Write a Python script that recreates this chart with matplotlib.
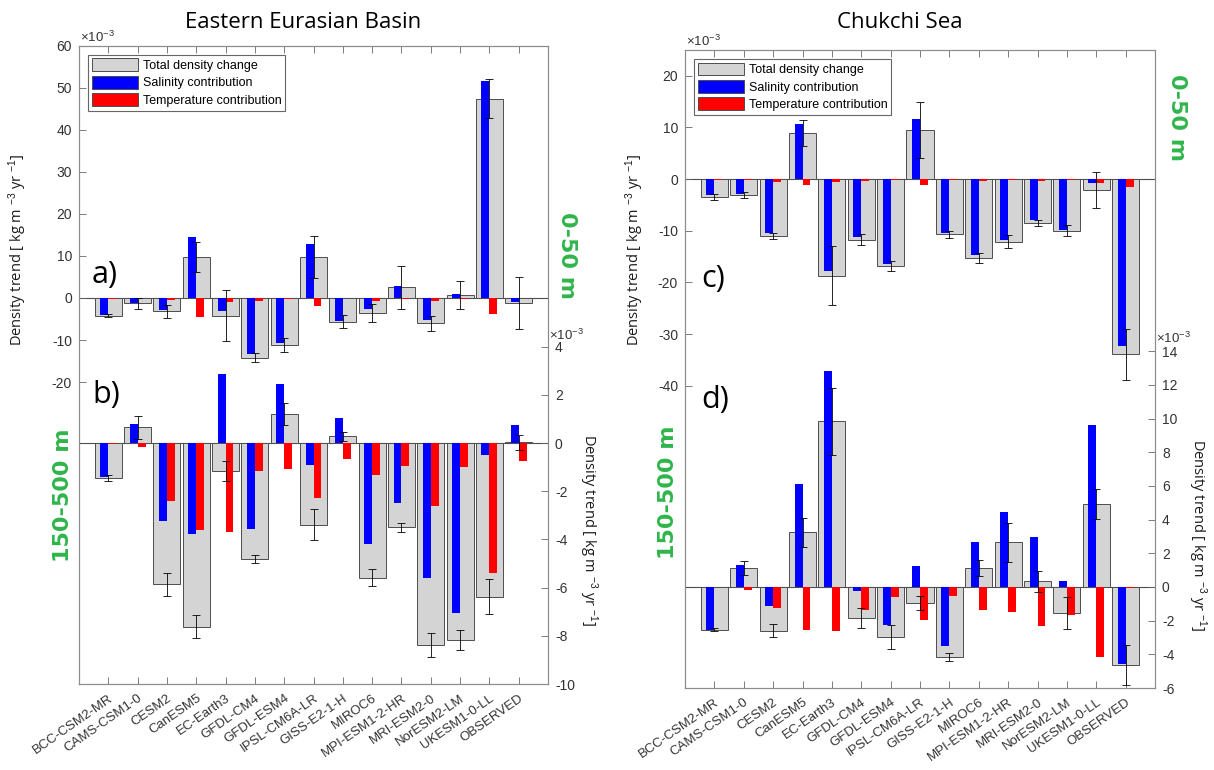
import numpy as np
import matplotlib
matplotlib.use("Agg")
import matplotlib.pyplot as plt
from matplotlib.patches import Patch

plt.rcParams['font.family'] = ['Liberation Sans', 'DejaVu Sans']
plt.rcParams['axes.unicode_minus'] = False
plt.rcParams['mathtext.fontset'] = 'custom'
plt.rcParams['mathtext.rm'] = 'Liberation Sans'
plt.rcParams['mathtext.it'] = 'Liberation Sans'

W, H = 1214, 770

models = ['BCC-CSM2-MR', 'CAMS-CSM1-0', 'CESM2', 'CanESM5', 'EC-Earth3', 'GFDL-CM4',
          'GFDL-ESM4', 'IPSL-CM6A-LR', 'GISS-E2-1-H', 'MIROC6', 'MPI-ESM1-2-HR',
          'MRI-ESM2-0', 'NorESM2-LM', 'UKESM1-0-LL', 'OBSERVED']

# Eastern Eurasian Basin, 0-50 m (x1e-3 kg m-3 yr-1)
tot_a = [-4.2, -1.3, -3.2, 9.8, -4.2, -14.2, -11.2, 9.8, -5.6, -3.6, 2.6, -6.0, 0.8, 47.4, -1.2]
sal_a = [-4.0, -1.2, -2.8, 14.6, -3.0, -13.4, -10.8, 12.8, -5.4, -2.6, 2.8, -5.2, 1.0, 51.6, -1.0]
tmp_a = [-0.2, -0.1, -0.4, -4.6, -1.0, -0.6, -0.3, -2.0, -0.1, -0.6, -0.2, -0.6, -0.2, -3.8, -0.1]
err_a = [0.4, 1.2, 1.6, 3.5, 6.1, 1.1, 1.6, 5.0, 1.5, 2.1, 5.1, 1.8, 3.3, 4.6, 6.1]

# Eastern Eurasian Basin, 150-500 m
tot_b = [-1.45, 0.65, -5.86, -7.62, -1.15, -4.82, 1.22, -3.39, 0.28, -5.58, -3.5, -8.38, -8.17, -6.37, 0.04]
sal_b = [-1.4, 0.8, -3.23, -3.77, 2.88, -3.57, 2.47, -0.9, 1.04, -4.2, -2.49, -5.58, -7.06, -0.48, 0.76]
tmp_b = [-0.02, -0.14, -2.42, -3.6, -3.7, -1.14, -1.08, -2.28, -0.66, -1.32, -0.93, -2.59, -1.01, -5.4, -0.76]
err_b = [0.13, 0.48, 0.48, 0.47, 0.42, 0.16, 0.45, 0.64, 0.2, 0.36, 0.17, 0.5, 0.42, 0.71, 0.31]

# Chukchi Sea, 0-50 m
tot_c = [-3.4, -3.1, -11.0, 9.0, -18.7, -11.7, -16.8, 9.5, -10.7, -15.2, -12.1, -8.5, -10.0, -2.1, -33.9]
sal_c = [-3.1, -2.8, -10.5, 10.6, -17.7, -11.2, -16.5, 11.6, -10.5, -14.7, -11.8, -7.9, -9.9, -0.7, -32.3]
tmp_c = [-0.2, -0.1, -0.5, -1.2, -0.6, -0.4, -0.1, -1.2, -0.1, -0.3, -0.1, -0.3, -0.1, -0.8, -1.6]
err_c = [0.55, 0.6, 0.6, 2.5, 5.7, 1.0, 0.95, 5.4, 0.6, 1.0, 1.2, 0.65, 1.1, 3.4, 4.9]

# Chukchi Sea, 150-500 m
tot_d = [-2.53, 1.13, -2.59, 3.25, 9.84, -1.84, -2.97, -0.95, -4.18, 1.13, 2.65, 0.34, -1.54, 4.93, -4.61]
sal_d = [-2.53, 1.29, -1.15, 6.14, 12.81, -0.26, -2.24, 1.23, -3.49, 2.65, 4.44, 2.95, 0.34, 9.64, -4.57]
tmp_d = [-0.02, -0.16, -1.25, -2.57, -2.63, -1.35, -0.59, -1.94, -0.55, -1.39, -1.5, -2.3, -1.64, -4.16, -0.06]
err_d = [0.1, 0.4, 0.38, 0.87, 1.99, 0.61, 0.74, 0.4, 0.23, 0.47, 1.14, 0.62, 0.95, 0.91, 1.19]

GREY = '#d4d4d4'
GREEN = '#2fb54a'
FRAME = '0.55'
LABEL = '0.2'
TITLE_FONT = ['Open Sans', 'DejaVu Sans']
YLAB = 'Density trend [ kg m $^{-3}$ yr $^{-1}$]'


def px(x, y):
    # figure pixel -> figure fraction
    return x / W, 1 - y / H


def bars(ax, tot, sal, tmp, err):
    x = np.arange(1, len(models) + 1)
    ax.bar(x, tot, width=0.92, color=GREY, edgecolor='0.3', linewidth=0.7, zorder=2)
    ax.bar(x - 0.135, sal, width=0.27, color='#0000ff', zorder=3)
    ax.bar(x + 0.135, tmp, width=0.27, color='#ff0000', zorder=3)
    ax.errorbar(x, tot, yerr=err, fmt='none', ecolor='k', elinewidth=0.6,
                capsize=3, capthick=0.6, zorder=4)
    ax.axhline(0, color='0.3', lw=0.8, zorder=1)


def panel(rect, top, bot, ylim_t, yt_t, ylim_b, yt_b):
    ax = fig.add_axes(rect)
    ax2 = ax.twinx()
    bars(ax, *top)
    bars(ax2, *bot)
    ax.set_xlim(0, 16)
    ax.set_ylim(*ylim_t)
    ax.set_yticks(yt_t)
    ax2.set_ylim(*ylim_b)
    ax2.set_yticks(yt_b)
    ax.set_xticks(np.arange(1, 16))
    ax.set_xticklabels(models, rotation=35, ha='right', rotation_mode='anchor',
                       fontsize=9.5, color=LABEL)
    ax.tick_params(axis='x', top=True, direction='in', length=5, width=0.6,
                   color='0.4', pad=6)
    ax.tick_params(axis='y', direction='in', length=5, width=0.6, color='0.4',
                   labelsize=10, labelcolor=LABEL, pad=5)
    ax2.tick_params(axis='y', direction='in', length=5, width=0.6, color='0.4',
                    labelsize=10, labelcolor=LABEL, pad=5)
    for a in (ax, ax2):
        for s in a.spines.values():
            s.set_color(FRAME)
            s.set_linewidth(0.8)
    handles = [Patch(facecolor=GREY, edgecolor='0.3', lw=0.7, label='Total density change'),
               Patch(facecolor='#0000ff', edgecolor='0.3', lw=0.7, label='Salinity contribution'),
               Patch(facecolor='#ff0000', edgecolor='0.3', lw=0.7, label='Temperature contribution')]
    leg = ax2.legend(handles=handles, loc='upper left', bbox_to_anchor=(0.02, 0.986),
                     fontsize=9, handlelength=3.7, handleheight=1.2, handletextpad=0.35,
                     labelspacing=0.3, borderpad=0.3, fancybox=False, framealpha=1,
                     borderaxespad=0)
    leg.get_frame().set_edgecolor('0.4')
    leg.get_frame().set_linewidth(0.8)
    return ax, ax2


fig = plt.figure(figsize=(W / 100, H / 100), dpi=100)

# left panel: Eastern Eurasian Basin
panel([79 / W, 1 - 684 / H, 469 / W, 638.3 / H],
      (tot_a, sal_a, tmp_a, err_a), (tot_b, sal_b, tmp_b, err_b),
      (-91.8, 60), np.arange(-20, 61, 10), (-10, 16.5), np.arange(-10, 5, 2))

# right panel: Chukchi Sea
panel([685 / W, 1 - 688 / H, 470 / W, 638 / H],
      (tot_c, sal_c, tmp_c, err_c), (tot_d, sal_d, tmp_d, err_d),
      (-98.5, 25), np.arange(-40, 21, 10), (-6, 31.9), np.arange(-6, 15, 2))

# titles
fig.text(*px(303, 22), 'Eastern Eurasian Basin', ha='center', va='center',
         fontsize=16, family=TITLE_FONT)
fig.text(*px(900, 22), 'Chukchi Sea', ha='center', va='center',
         fontsize=16, family=TITLE_FONT)

# exponent labels
for (x, y) in [(80, 37), (686, 41), (549, 335), (1156, 338)]:
    fig.text(*px(x, y), r'$\times10^{-3}$', ha='left', va='center', fontsize=9.5, color=LABEL)

# y labels
for (x, y, rot) in [(18, 250, 90), (588, 530, -90), (635, 250, 90), (1197, 535, -90)]:
    fig.text(*px(x, y), YLAB, ha='center', va='center', rotation=rot,
             fontsize=10.5, family=TITLE_FONT, color='0.1')

# depth labels
for (x, y, s, rot) in [(567, 255, '0-50 m', -90), (63, 495, '150-500 m', 90),
                       (1177, 118, '0-50 m', -90), (668, 492, '150-500 m', 90)]:
    fig.text(*px(x, y), s, ha='center', va='center', rotation=rot, fontsize=16,
             fontweight='bold', color=GREEN, family=['DejaVu Sans'])

# panel letters
for (x, y, s) in [(92, 275, 'a)'), (92, 395, 'b)'), (701, 279, 'c)'), (701, 400, 'd)')]:
    fig.text(*px(x, y), s, ha='left', va='center', fontsize=22, family=TITLE_FONT)

fig.savefig('out.png', dpi=100)
